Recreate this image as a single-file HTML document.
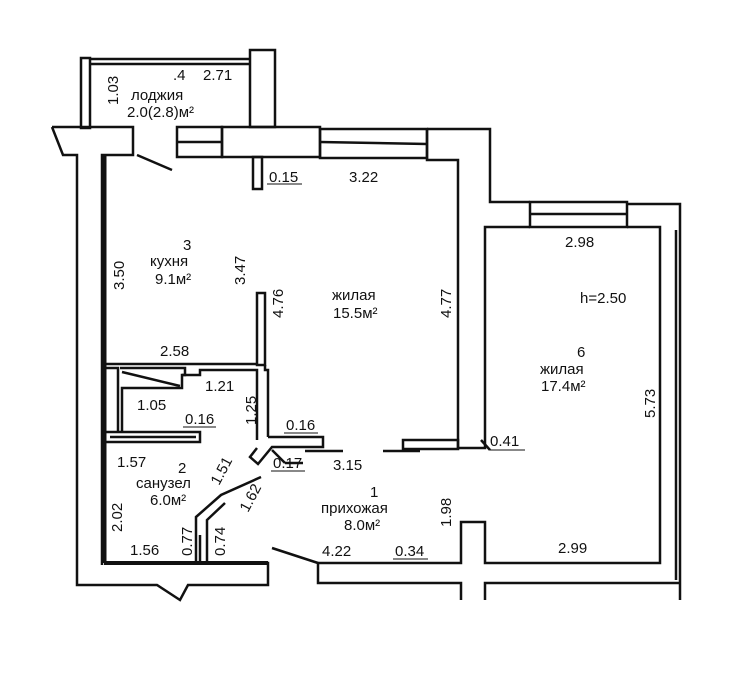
<!DOCTYPE html>
<html><head><meta charset="utf-8"><style>
body{margin:0;background:#fff}
svg{display:block}
text{font-family:"Liberation Sans","DejaVu Sans",sans-serif;font-size:15px;fill:#111}
</style></head><body>
<svg width="750" height="673" viewBox="0 0 750 673" xmlns="http://www.w3.org/2000/svg">
<g fill="none" stroke="#111" stroke-width="2.5" stroke-linejoin="miter">
<!-- loggia -->
<rect x="81" y="58" width="9" height="70"/>
<line x1="90" y1="59" x2="250" y2="59"/><line x1="90" y1="64" x2="250" y2="64"/>
<rect x="250" y="50" width="25" height="77"/>
<!-- top left block & left wall -->
<polyline points="52,127 133,127 133,155 102,155 102,565"/>
<polyline points="52,127 63,155 77,155 77,585 157,585 180,600 188,585 268,585 268,563 104,563"/>
<line x1="104" y1="155" x2="104" y2="563" stroke-width="5"/>
<line x1="104" y1="563" x2="268" y2="563" stroke-width="4"/>
<!-- top wall -->
<rect x="177" y="127" width="45" height="30"/><line x1="177" y1="142" x2="222" y2="142"/>
<rect x="222" y="127" width="98" height="30"/>
<rect x="320" y="129" width="107" height="29"/><line x1="320" y1="142" x2="427" y2="144"/>
<polyline points="427,129 490,129 490,202 530,202"/>
<polyline points="427,129 427,160 458,160 458,448 485,448 485,227 530,227"/>
<rect x="253" y="157" width="9" height="32"/>
<!-- room 6 -->
<rect x="530" y="202" width="97" height="25"/><line x1="530" y1="214" x2="627" y2="214"/>
<polyline points="627,204 680,204 680,600"/>
<polyline points="627,227 660,227 660,563 485,563 485,522 461,522 461,563 318,563 318,583 461,583 461,600"/>
<polyline points="485,600 485,583 680,583"/>
<line x1="676" y1="230" x2="676" y2="580"/>
<!-- kitchen/living partitions -->
<rect x="257" y="293" width="8" height="72"/>
<line x1="104" y1="364" x2="257" y2="364"/>
<polyline points="104,368 118,368 118,432"/>
<polyline points="120,368 185,368 185,375 182,375 182,388 122,388 122,432"/>
<line x1="122" y1="372" x2="180" y2="386"/>
<polyline points="265,365 265,370 268,370 268,437"/>
<polyline points="182,375 200,375 200,370 257,370 257,440"/>
<rect x="104" y="432" width="96" height="10"/>
<line x1="110" y1="437" x2="196" y2="437"/>
<!-- hall walls -->
<polyline points="268,437 323,437 323,447 272,447 258,464 250,457 257,448"/>
<line x1="272" y1="450" x2="285" y2="463"/><line x1="285" y1="463" x2="303" y2="463"/>
<line x1="305" y1="451" x2="343" y2="451"/><line x1="383" y1="451" x2="420" y2="451"/>
<rect x="403" y="440" width="55" height="9"/>
<polyline points="196,563 196,517 221,495 261,477"/>
<polyline points="207,563 207,520 225,503"/>
<line x1="200" y1="535" x2="200" y2="563"/>
<!-- doors -->
<line x1="137" y1="155" x2="172" y2="170"/>
<line x1="272" y1="548" x2="318" y2="563"/>
<line x1="481" y1="440" x2="490" y2="450"/>
</g>
<g>
<text x="173" y="80">.4</text><text x="203" y="80">2.71</text>
<text x="131" y="100">лоджия</text><text x="127" y="117">2.0(2.8)м²</text>
<text transform="translate(118,105) rotate(-90)">1.03</text>
<text x="269" y="182">0.15</text><line x1="267" y1="184" x2="302" y2="184" stroke="#111"/>
<text x="349" y="182">3.22</text>
<text x="183" y="250">3</text><text x="150" y="266">кухня</text><text x="155" y="284">9.1м²</text>
<text transform="translate(124,290) rotate(-90)">3.50</text>
<text transform="translate(245,285) rotate(-90)">3.47</text>
<text transform="translate(283,318) rotate(-90)">4.76</text>
<text x="332" y="300">жилая</text><text x="333" y="318">15.5м²</text>
<text transform="translate(451,318) rotate(-90)">4.77</text>
<text x="565" y="247">2.98</text><text x="580" y="303">h=2.50</text>
<text x="577" y="357">6</text><text x="540" y="374">жилая</text><text x="541" y="391">17.4м²</text>
<text transform="translate(655,418) rotate(-90)">5.73</text>
<text x="160" y="356">2.58</text><text x="205" y="391">1.21</text><text x="137" y="410">1.05</text>
<text x="185" y="424">0.16</text><line x1="183" y1="427" x2="216" y2="427" stroke="#111"/>
<text transform="translate(256,425) rotate(-90)">1.25</text>
<text x="286" y="430">0.16</text><line x1="284" y1="433" x2="318" y2="433" stroke="#111"/>
<text x="490" y="446">0.41</text><line x1="490" y1="450" x2="525" y2="450" stroke="#111"/>
<text x="273" y="468">0.17</text><line x1="271" y1="471" x2="305" y2="471" stroke="#111"/>
<text x="333" y="470">3.15</text>
<text x="117" y="467">1.57</text><text x="178" y="473">2</text>
<text x="136" y="488">санузел</text><text x="150" y="505">6.0м²</text>
<text transform="translate(219,486) rotate(-62)">1.51</text>
<text transform="translate(248,513) rotate(-62)">1.62</text>
<text x="370" y="497">1</text><text x="321" y="513">прихожая</text><text x="344" y="530">8.0м²</text>
<text transform="translate(451,527) rotate(-90)">1.98</text>
<text transform="translate(122,532) rotate(-90)">2.02</text>
<text transform="translate(192,556) rotate(-90)">0.77</text>
<text transform="translate(225,556) rotate(-90)">0.74</text>
<text x="130" y="555">1.56</text><text x="322" y="556">4.22</text>
<text x="395" y="556">0.34</text><line x1="393" y1="559" x2="428" y2="559" stroke="#111"/>
<text x="558" y="553">2.99</text>
</g>
</svg>
</body></html>
